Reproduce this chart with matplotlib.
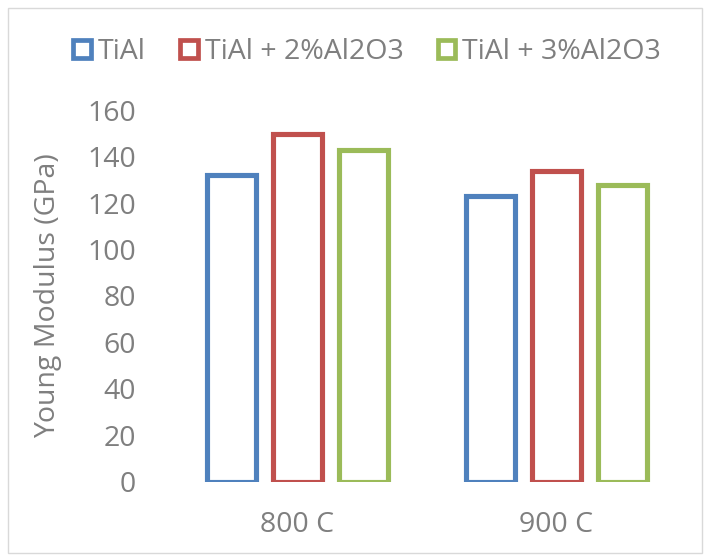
import matplotlib
matplotlib.use("Agg")
import matplotlib.pyplot as plt
from matplotlib.patches import Rectangle
import numpy as np

plt.rcParams['font.family'] = ['Open Sans', 'DejaVu Sans']

# Data
categories = ["800 C", "900 C"]
series_names = ["TiAl", "TiAl + 2%Al2O3", "TiAl + 3%Al2O3"]
tial = [132, 123]
tial_2 = [150, 134]
tial_3 = [143, 128]
y_ticks = [0, 20, 40, 60, 80, 100, 120, 140, 160]

colors = ["#4F81BD", "#C0504D", "#9BBB59"]
text_color = "#7F7F7F"
fs = 20.5

fig = plt.figure(figsize=(7.04, 5.55), dpi=100)
ax = fig.add_axes([168 / 704, 73.5 / 555, 518 / 704, 371 / 555])

x = np.arange(len(categories))
offset = 0.253
width = 0.189
for i, (vals, col) in enumerate(zip([tial, tial_2, tial_3], colors)):
    ax.bar(x + (i - 1) * offset, vals, width, facecolor="white",
           edgecolor=col, linewidth=3.7, label=series_names[i], zorder=3)

ax.set_xlim(-0.5, 1.5)
ax.set_ylim(0, 160)
ax.set_yticks(y_ticks)
ax.set_xticks(x)
ax.set_xticklabels(categories)
ax.tick_params(axis="both", length=0, labelsize=fs, colors=text_color)
ax.tick_params(axis="y", pad=23)
ax.tick_params(axis="x", pad=21)
for s in ax.spines.values():
    s.set_visible(False)
ax.set_ylabel("Young Modulus (GPa)", fontsize=fs, color=text_color)
ax.yaxis.set_label_coords(-0.205, 0.5)

# Legend
handles = [Rectangle((0, 0), 1, 1, facecolor="white", edgecolor=c, linewidth=3.4)
           for c in colors]
fig.legend(handles, series_names, loc="center", bbox_to_anchor=(367 / 704, 1 - 52 / 555),
           ncol=3, frameon=False, fontsize=fs, labelcolor=text_color,
           handlelength=0.62, handleheight=0.62, handletextpad=0.25, columnspacing=1.2)

# Chart border
fig.add_artist(Rectangle((8 / 704, 2 / 555), 694 / 704, 545 / 555,
                         transform=fig.transFigure, fill=False,
                         edgecolor="#D9D9D9", linewidth=1.0))

fig.savefig("out.png", dpi=100)
